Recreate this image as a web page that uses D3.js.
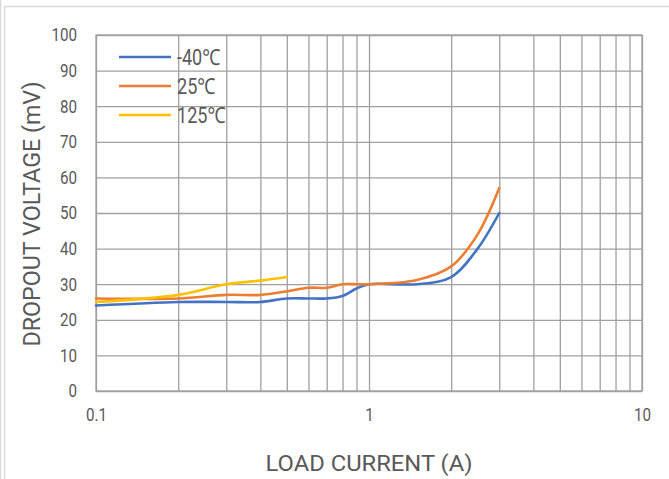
<!DOCTYPE html>
<html>
<head>
<meta charset="utf-8">
<script src="https://cdn.jsdelivr.net/npm/d3@7"></script>
<style>
  html, body { margin: 0; padding: 0; background: #fff; }
  svg { display: block; }
  text { font-family: Roboto, "Noto Sans", sans-serif; fill: #595959; }
</style>
</head>
<body>
<svg id="chart" width="669" height="479"></svg>
<script>
// ---- data ----
const currents = [0.1, 0.2, 0.3, 0.4, 0.5, 0.6, 0.7, 0.8, 0.9, 1, 1.5, 2, 2.5, 3];
const seriesNames = ["-40℃", "25℃", "125℃"];
const vMinus40 = [24, 25, 25, 25, 26, 26, 26, 26.7, 28.8, 30, 30, 32, 40, 50];
const v25 = [26, 26, 27, 27, 28, 29, 29, 30, 30, 30, 31.2, 35, 44, 57];
const currents125 = [0.1, 0.2, 0.3, 0.4, 0.5];
const v125 = [25, 27, 30, 31, 32];
const seriesColors = ["#4472C4", "#ED7D31", "#FFC000"];
const yTicks = [0, 10, 20, 30, 40, 50, 60, 70, 80, 90, 100];
const xTickLabels = [0.1, 1, 10];
const xGrid = [0.1,0.2,0.3,0.4,0.5,0.6,0.7,0.8,0.9,1,2,3,4,5,6,7,8,9,10];

const svg = d3.select("#chart");

// outer frame (light)
svg.append("line").attr("x1", 0.5).attr("x2", 0.5).attr("y1", 0).attr("y2", 479)
  .attr("stroke", "#d9d9d9").attr("stroke-width", 1.5);
svg.append("line").attr("x1", 4.5).attr("x2", 4.5).attr("y1", 6).attr("y2", 479)
  .attr("stroke", "#d9d9d9").attr("stroke-width", 1.5);
svg.append("line").attr("x1", 4.5).attr("x2", 669).attr("y1", 6.5).attr("y2", 6.5)
  .attr("stroke", "#d9d9d9").attr("stroke-width", 1.5);

const x = d3.scaleLog().domain([0.1, 10]).range([96, 642]);
const y = d3.scaleLinear().domain([0, 100]).range([391, 35]);

const condense = (sel, f) => sel.each(function () {
  const w = this.getComputedTextLength();
  d3.select(this).attr("textLength", w * f).attr("lengthAdjust", "spacingAndGlyphs");
});

// horizontal grid
const gy = svg.append("g").attr("transform", `translate(${x.range()[0]},0)`)
  .call(d3.axisLeft(y).tickValues(yTicks).tickSize(-(x.range()[1] - x.range()[0])).tickPadding(19).tickFormat(d3.format("d")));
gy.select(".domain").remove();
gy.selectAll(".tick line").attr("stroke", "#a0a0a0").attr("stroke-width", 1.3);
gy.selectAll(".tick text").attr("font-size", 18.5).attr("fill", "#595959")
  .style("font-family", "Roboto, sans-serif").call(condense, 0.82);

// vertical grid
const gx = svg.append("g").attr("transform", `translate(0,${y.range()[0]})`)
  .call(d3.axisBottom(x).tickValues(xGrid).tickSize(-(y.range()[0] - y.range()[1])).tickFormat(""));
gx.select(".domain").remove();
gx.selectAll(".tick line").attr("stroke", "#a0a0a0").attr("stroke-width", 1.3);

// x tick labels
const gxl = svg.append("g").attr("transform", `translate(0,${y.range()[0]})`)
  .call(d3.axisBottom(x).tickValues(xTickLabels).tickSize(0).tickPadding(17).tickFormat(d => d3.format("~g")(d)));
gxl.select(".domain").remove();
gxl.selectAll(".tick text").attr("font-size", 18.5).attr("fill", "#595959")
  .style("font-family", "Roboto, sans-serif").call(condense, 0.82);

// plot border
svg.append("rect").attr("x", x.range()[0]).attr("y", y.range()[1])
  .attr("width", x.range()[1] - x.range()[0]).attr("height", y.range()[0] - y.range()[1])
  .attr("fill", "none").attr("stroke", "#a0a0a0").attr("stroke-width", 1.3);

// lines
const line = d3.line().x(d => x(d[0])).y(d => y(d[1])).curve(d3.curveCatmullRom.alpha(0.5));
const data = [
  d3.zip(currents, vMinus40),
  d3.zip(currents, v25),
  d3.zip(currents125, v125)
];
data.forEach((pts, i) => {
  svg.append("path").datum(pts).attr("d", line)
    .attr("fill", "none").attr("stroke", seriesColors[i]).attr("stroke-width", 2.6)
    .attr("stroke-linejoin", "round").attr("stroke-linecap", "round");
});

// legend
const legY = [57, 86, 115];
seriesNames.forEach((n, i) => {
  svg.append("line").attr("x1", 119).attr("x2", 171).attr("y1", legY[i]).attr("y2", legY[i])
    .attr("stroke", seriesColors[i]).attr("stroke-width", 2.6);
  svg.append("text").attr("x", 177).attr("y", legY[i] + 8).attr("font-size", 22)
    .attr("fill", "#595959").text(n).call(condense, 0.82);
});

// axis titles
svg.append("text").attr("transform", "translate(40,214) rotate(-90)")
  .attr("text-anchor", "middle").attr("font-size", 23).attr("fill", "#595959")
  .text("DROPOUT VOLTAGE (mV)").attr("textLength", 265).attr("lengthAdjust", "spacingAndGlyphs");
svg.append("text").attr("x", 369).attr("y", 471)
  .attr("text-anchor", "middle").attr("font-size", 22).attr("fill", "#595959")
  .text("LOAD CURRENT (A)").attr("textLength", 207).attr("lengthAdjust", "spacingAndGlyphs");
</script>
</body>
</html>
